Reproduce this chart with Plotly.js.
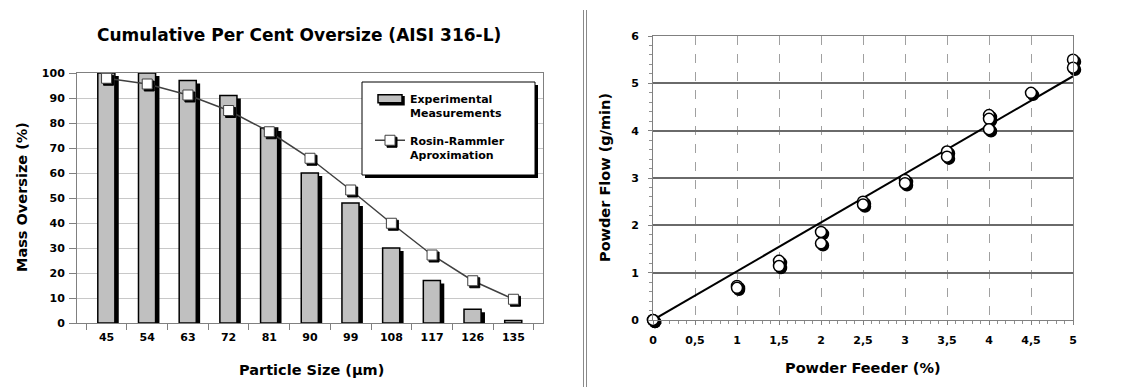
<!DOCTYPE html>
<html><head><meta charset="utf-8">
<script src="https://cdn.plot.ly/plotly-3.0.1.min.js"></script>
<style>
html,body{margin:0;padding:0;background:#fff;}
#wrap{position:relative;width:1141px;height:387px;overflow:hidden;}
#chart{width:1141px;height:387px;}
.sep{position:absolute;top:10px;bottom:0;width:1px;background:#8a8a8a;}
.js-plotly-plot .scatterlayer .points path{filter:drop-shadow(2px 2px 0 #000);}
.js-plotly-plot .legend .legendpoints path{filter:drop-shadow(2px 2px 0 #000);}
</style></head><body>
<div id="wrap">
<div id="chart"></div>
<div class="sep" style="left:583px"></div><div class="sep" style="left:586px"></div>
</div>
<script>
// Left chart: Cumulative Per Cent Oversize
const particleSizes = ['45','54','63','72','81','90','99','108','117','126','135'];
const experimental = [100,100,97,91,78,60,48,30,17,5.5,1];
const rosinRammler = [97.9,95.6,91.2,85,76.5,65.9,53.2,39.9,27.2,16.9,9.5];

// Right chart: Powder flow vs feeder
const feederPct  = [0,0,1,1,1.5,1.5,2,2,2.5,2.5,3,3,3.5,3.5,4,4,4,4.5,5,5];
const powderFlow = [0,0,0.72,0.68,1.25,1.14,1.86,1.62,2.5,2.44,2.96,2.89,3.56,3.45,4.33,4.25,4.03,4.8,5.5,5.33];
const fitX = [0,5];
const fitY = [0,5.15];
const feederTicks = [0,0.5,1,1.5,2,2.5,3,3.5,4,4.5,5];

const W=1141,H=387;
const px=v=>v/W, py=v=>1-v/H;
const F='DejaVu Sans';

const traces=[
 {type:'bar',x:particleSizes,y:experimental,base:-1.2,width:0.42,offset:-0.12,
  marker:{color:'#000'},showlegend:false,hoverinfo:'skip',xaxis:'x',yaxis:'y'},
 {type:'bar',x:particleSizes,y:experimental,width:0.42,offset:-0.215,name:'Experimental<br>Measurements',
  marker:{color:'#c0c0c0',line:{color:'#000',width:1.5}},xaxis:'x',yaxis:'y',legendgroup:'a'},
 {type:'scatter',mode:'lines+markers',x:particleSizes,y:rosinRammler,name:'Rosin-Rammler<br>Aproximation',
  line:{color:'#404040',width:1.5},marker:{symbol:'square',size:10,color:'#fff',line:{color:'#404040',width:1}},
  xaxis:'x',yaxis:'y',legendgroup:'b',cliponaxis:false},
 {type:'scatter',mode:'lines',x:fitX,y:fitY,line:{color:'#000',width:2},showlegend:false,xaxis:'x2',yaxis:'y2',cliponaxis:false},
 {type:'scatter',mode:'markers',x:feederPct,y:powderFlow,showlegend:false,
  marker:{symbol:'circle',size:11,color:'#fff',line:{color:'#000',width:1.5}},xaxis:'x2',yaxis:'y2',cliponaxis:false}
];

const ann=(text,x,y,size,angle)=>({text:text,xref:'paper',yref:'paper',x:px(x),y:py(y),xanchor:'center',yanchor:'middle',
  showarrow:false,textangle:angle||0,font:{family:F,size:size,weight:'bold'}});

const layout={
 width:W,height:H,margin:{l:0,r:0,t:0,b:0},paper_bgcolor:'#fff',plot_bgcolor:'#fff',
 separators:',.',barmode:'overlay',font:{family:F,color:'#000'},
 xaxis:{domain:[px(77),px(543)],type:'category',showline:true,linecolor:'#808080',linewidth:1,mirror:true,
  ticks:'outside',tickson:'boundaries',ticklen:6,tickcolor:'#808080',showgrid:false,ticklabelstandoff:4,
  tickfont:{family:F,size:11,weight:'bold'},anchor:'y'},
 yaxis:{domain:[1-323/H,1-73/H],range:[0,100],dtick:10,showline:true,linecolor:'#808080',mirror:true,
  ticks:'outside',ticklen:7,tickcolor:'#808080',gridcolor:'#c8c8c8',zeroline:false,ticklabelstandoff:2,
  tickfont:{family:F,size:11,weight:'bold'},anchor:'x'},
 xaxis2:{domain:[px(653),px(1073)],range:[0,5],tickvals:feederTicks,showline:true,linecolor:'#808080',mirror:true,
  ticks:'outside',ticklen:4,tickcolor:'#808080',showgrid:true,gridcolor:'#a0a0a0',griddash:'dash',gridwidth:1,zeroline:false,
  minor:{dtick:0.1,ticks:'outside',ticklen:3,tickcolor:'#909090',showgrid:false},ticklabelstandoff:6,
  tickfont:{family:F,size:11,weight:'bold'},anchor:'y2'},
 yaxis2:{domain:[1-320/H,1-36/H],range:[0,6],dtick:1,showline:true,linecolor:'#808080',mirror:true,
  ticks:'outside',ticklen:4,tickcolor:'#808080',gridcolor:'#6a6a6a',gridwidth:2,zeroline:false,ticklabelstandoff:7,
  minor:{dtick:0.2,ticks:'outside',ticklen:3,tickcolor:'#909090',showgrid:false},
  tickfont:{family:F,size:11,weight:'bold'},anchor:'x2'},
 legend:{x:px(370),y:py(85),xanchor:'left',yanchor:'top',bgcolor:'rgba(0,0,0,0)',borderwidth:0,
  font:{family:F,size:11,weight:'bold'},valign:'top',traceorder:'grouped',tracegroupgap:10},
 shapes:[
  {type:'rect',xref:'paper',yref:'paper',x0:px(365),x1:px(538),y0:py(85),y1:py(178),fillcolor:'#000',line:{width:0},layer:'above'},
  {type:'rect',xref:'paper',yref:'paper',x0:px(362),x1:px(535),y0:py(82),y1:py(175),fillcolor:'#fff',line:{color:'#000',width:1},layer:'above'}
 ],
 annotations:[
  ann('Cumulative Per Cent Oversize (AISI 316-L)',299,35,17),
  ann('Mass Oversize (%)',22,197,14.5,-90),
  ann('Particle Size (µm)',311,370,14.5),
  ann('Powder Flow (g/min)',605,178,14.5,-90),
  ann('Powder Feeder (%)',863,368,14.5)
 ]
};
Plotly.newPlot('chart',traces,layout,{displayModeBar:false,staticPlot:true}).then(function(gd){
  // widen the bar legend swatch into a flat rectangle like the original
  const groups = gd.querySelectorAll('.legend .traces');
  if(groups.length){
    const sw = groups[0].querySelector('.legendpoints path');
    if(sw){ sw.setAttribute('d','M12,4H-12V-4H12Z'); }
  }
});
</script>
</body></html>
